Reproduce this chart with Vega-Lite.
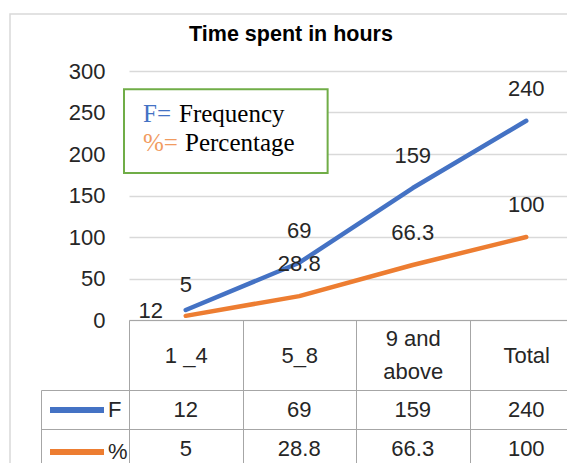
{
  "$schema": "https://vega.github.io/schema/vega-lite/v6.json",
  "width": 562,
  "height": 454,
  "autosize": {"type": "none"},
  "padding": {"left": 10, "top": 14, "right": -5, "bottom": -5},
  "background": "white",
  "title": {
    "text": "Time spent in hours",
    "anchor": "middle",
    "frame": "group",
    "offset": -48,
    "baseline": "alphabetic",
    "font": "Liberation Sans",
    "fontSize": 21.5,
    "fontWeight": "bold",
    "color": "#000000"
  },
  "config": {
    "view": {"stroke": "#D9D9D9", "strokeWidth": 1.5},
    "font": "Liberation Sans",
    "text": {"font": "Liberation Sans", "fontSize": 22, "color": "#262626"}
  },
  "datasets": {
    "main": [
      {"cat": "1 _4", "series": "F", "value": 12, "lbl": "5"},
      {"cat": "5_8", "series": "F", "value": 69, "lbl": "69"},
      {"cat": "9 and above", "series": "F", "value": 159, "lbl": "159"},
      {"cat": "Total", "series": "F", "value": 240, "lbl": "240"},
      {"cat": "1 _4", "series": "%", "value": 5, "lbl": "12"},
      {"cat": "5_8", "series": "%", "value": 28.8, "lbl": "28.8"},
      {"cat": "9 and above", "series": "%", "value": 66.3, "lbl": "66.3"},
      {"cat": "Total", "series": "%", "value": 100, "lbl": "100"}
    ],
    "notes": [
      {"key": "F", "sym": "F=", "desc": "Frequency"},
      {"key": "%", "sym": "%=", "desc": "Percentage"}
    ]
  },
  "layer": [
    {
      "layer": [
        {
          "data": {"name": "main"},
          "mark": {"type": "line", "strokeWidth": 4.5, "strokeCap": "round", "strokeJoin": "round"},
          "encoding": {
            "x": {
              "field": "cat",
              "type": "nominal",
              "bandPosition": 0.5,
              "scale": {
                "type": "band",
                "domain": ["1 _4", "5_8", "9 and above", "Total"],
                "range": [119, 573],
                "paddingInner": 0,
                "paddingOuter": 0
              },
              "axis": {
                "orient": "bottom",
                "offset": -148,
                "title": null,
                "grid": false,
                "domain": true,
                "domainColor": "#A6A6A6",
                "domainWidth": 1,
                "ticks": true,
                "tickBand": "extent",
                "tickSize": 150,
                "tickColor": "#A6A6A6",
                "tickWidth": 1,
                "labelAngle": 0,
                "labelPadding": {"expr": "datum.value == '9 and above' ? -131.5 : -115"},
                "labelBaseline": "middle",
                "labelFont": "Liberation Sans",
                "labelFontSize": 22,
                "labelColor": "#262626",
                "labelLineHeight": 33,
                "labelExpr": "datum.value == '9 and above' ? ['9 and', 'above'] : datum.value"
              }
            },
            "y": {
              "field": "value",
              "type": "quantitative",
              "scale": {"domain": [0, 300], "range": [306, 57], "nice": false, "zero": false},
              "axis": {
                "orient": "left",
                "offset": -119,
                "title": null,
                "values": [0, 50, 100, 150, 200, 250, 300],
                "domain": false,
                "ticks": false,
                "grid": true,
                "gridColor": "#D9D9D9",
                "gridWidth": 1.5,
                "labelPadding": 24,
                "labelFont": "Liberation Sans",
                "labelFontSize": 22,
                "labelColor": "#262626"
              }
            },
            "color": {
              "field": "series",
              "type": "nominal",
              "scale": {"domain": ["F", "%"], "range": ["#4472C4", "#ED7D31"]},
              "legend": {
                "orient": "none",
                "legendX": 37,
                "legendY": 366,
                "title": null,
                "padding": 0,
                "symbolType": "stroke",
                "symbolSize": 2916,
                "symbolStrokeWidth": 6,
                "labelFont": "Liberation Sans",
                "labelFontSize": 22,
                "labelColor": "#262626",
                "labelOffset": 1,
                "rowPadding": -20
              }
            }
          }
        },
        {
          "data": {"name": "main"},
          "transform": [{"filter": "datum.cat != '1 _4'"}],
          "mark": {"type": "text", "dy": -32, "fontSize": 22, "color": "#262626"},
          "encoding": {
            "x": {"field": "cat", "type": "nominal", "bandPosition": 0.5},
            "y": {"field": "value", "type": "quantitative"},
            "text": {"field": "lbl"}
          }
        },
        {
          "data": {"name": "main"},
          "transform": [{"filter": "datum.cat == '1 _4' && datum.series == 'F'"}],
          "mark": {"type": "text", "dy": -25, "fontSize": 22, "color": "#262626"},
          "encoding": {
            "x": {"field": "cat", "type": "nominal", "bandPosition": 0.5},
            "y": {"field": "value", "type": "quantitative"},
            "text": {"field": "lbl"}
          }
        },
        {
          "data": {"name": "main"},
          "transform": [{"filter": "datum.cat == '1 _4' && datum.series == '%'"}],
          "mark": {"type": "text", "dx": -35, "dy": -5, "fontSize": 22, "color": "#262626"},
          "encoding": {
            "x": {"field": "cat", "type": "nominal", "bandPosition": 0.5},
            "y": {"field": "value", "type": "quantitative"},
            "text": {"field": "lbl"}
          }
        },
        {
          "data": {"name": "notes"},
          "transform": [{"filter": "datum.key == 'F'"}],
          "mark": {"type": "rect", "fill": "white", "stroke": "#70AD47", "strokeWidth": 2, "xOffset": -5},
          "encoding": {
            "x": {"datum": "1 _4", "bandPosition": 0},
            "x2": {"datum": "5_8", "bandPosition": 0.75},
            "y": {"datum": 278, "type": "quantitative"},
            "y2": {"datum": 177}
          }
        },
        {
          "data": {"name": "notes"},
          "transform": [{"filter": "datum.key == 'F'"}],
          "mark": {"type": "text", "font": "Liberation Serif", "fontSize": 25, "align": "left", "baseline": "alphabetic", "dx": 14, "color": "#4472C4"},
          "encoding": {
            "x": {"datum": "1 _4", "bandPosition": 0},
            "y": {"datum": 239, "type": "quantitative"},
            "text": {"field": "sym"}
          }
        },
        {
          "data": {"name": "notes"},
          "transform": [{"filter": "datum.key == 'F'"}],
          "mark": {"type": "text", "font": "Liberation Serif", "fontSize": 25, "align": "left", "baseline": "alphabetic", "dx": 50, "color": "#000000"},
          "encoding": {
            "x": {"datum": "1 _4", "bandPosition": 0},
            "y": {"datum": 239, "type": "quantitative"},
            "text": {"field": "desc"}
          }
        },
        {
          "data": {"name": "notes"},
          "transform": [{"filter": "datum.key == '%'"}],
          "mark": {"type": "text", "font": "Liberation Serif", "fontSize": 25, "align": "left", "baseline": "alphabetic", "dx": 14, "color": "#F19B5F"},
          "encoding": {
            "x": {"datum": "1 _4", "bandPosition": 0},
            "y": {"datum": 204, "type": "quantitative"},
            "text": {"field": "sym"}
          }
        },
        {
          "data": {"name": "notes"},
          "transform": [{"filter": "datum.key == '%'"}],
          "mark": {"type": "text", "font": "Liberation Serif", "fontSize": 25, "align": "left", "baseline": "alphabetic", "dx": 56, "color": "#000000"},
          "encoding": {
            "x": {"datum": "1 _4", "bandPosition": 0},
            "y": {"datum": 204, "type": "quantitative"},
            "text": {"field": "desc"}
          }
        }
      ]
    },
    {
      "data": {"name": "main"},
      "mark": {"type": "text", "fontSize": 22, "color": "#262626"},
      "encoding": {
        "x": {"field": "cat", "type": "nominal", "bandPosition": 0.5},
        "y": {
          "field": "series",
          "type": "nominal",
          "scale": {"type": "band", "domain": ["F", "%"], "range": [376, 454], "paddingInner": 0, "paddingOuter": 0},
          "axis": {
            "orient": "left",
            "offset": -31,
            "title": null,
            "domain": true,
            "domainColor": "#A6A6A6",
            "domainWidth": 1,
            "ticks": true,
            "tickBand": "extent",
            "tickSize": -88,
            "tickColor": "#A6A6A6",
            "tickWidth": 1,
            "grid": true,
            "gridColor": "#A6A6A6",
            "gridWidth": 1,
            "labels": false
          }
        },
        "text": {"field": "value", "type": "nominal"}
      }
    }
  ],
  "resolve": {"scale": {"y": "independent"}, "axis": {"y": "independent"}}
}
